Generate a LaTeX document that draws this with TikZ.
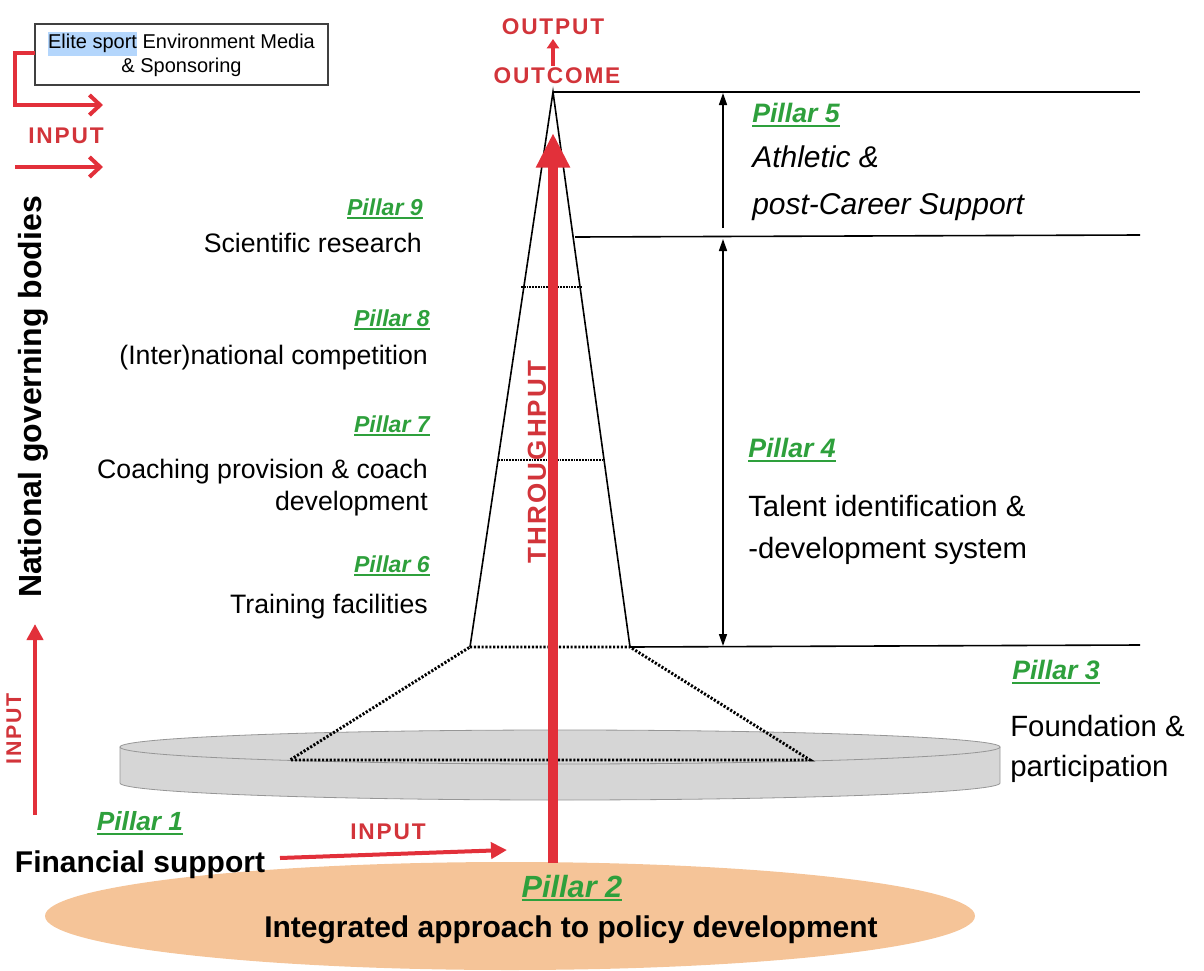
\documentclass[tikz,border=0pt]{standalone}
\usepackage{fontspec}
\setmainfont{Liberation Sans}
\newfontfamily\redfont[LetterSpace=8]{Liberation Sans}
\usetikzlibrary{arrows.meta}
\definecolor{pgreen}{RGB}{46,160,60}
\definecolor{ared}{RGB}{226,48,58}
\definecolor{tred}{RGB}{210,52,58}
\definecolor{discfill}{RGB}{214,214,214}
\definecolor{discline}{RGB}{150,150,150}
\definecolor{orangef}{RGB}{245,196,152}
\definecolor{hlblue}{RGB}{180,214,252}
\newcommand\pul[1]{\setbox0\hbox{#1}\rlap{\rule[-3pt]{\wd0}{1.5pt}}\box0}
\newcommand\pil[2]{{\color{pgreen}\fontsize{#2}{#2}\selectfont\bfseries\itshape\pul{Pillar #1}}}
\begin{document}
\begin{tikzpicture}[x=0.75pt,y=-0.75pt,
  txt/.style={inner sep=0pt,font=\fontsize{20}{25}\selectfont},
  rtxt/.style={inner sep=0pt,font=\fontsize{22}{31}\selectfont},
  bigb/.style={inner sep=0pt,font=\fontsize{22.5}{26}\selectfont\bfseries},
  redlbl/.style={inner sep=0pt,text=tred,font=\redfont\bfseries\fontsize{17}{20}\selectfont},
  redarr/.style={draw=ared,line width=3pt,-{Straight Barb[length=8pt,width=15pt,line width=3pt]}},
  redtri/.style={draw=ared,line width=3pt,-{Triangle[length=12pt,width=12pt]}},
  thin/.style={draw=black,line width=1.2pt},
  blkarr/.style={draw=black,line width=1.2pt,-{Triangle[length=9pt,width=6pt]}},
  bigdots/.style={draw=black,line width=2.2pt,dash pattern=on 1.6pt off 1.3pt},
  smalldots/.style={draw=black,line width=1.3pt,dash pattern=on 1.3pt off 0.8pt}
]
\useasboundingbox (0,0) rectangle (1204,971);

% ---------- foundation ellipse (pillar 2)
\fill[orangef] (510,916) ellipse [x radius=348.75pt, y radius=40.5pt];

% ---------- grey disc (pillar 3)
\filldraw[fill=discfill,draw=discline,line width=0.6pt]
  (120,747) -- (120,783) arc[start angle=180,end angle=360,x radius=330pt,y radius=12.75pt] -- (1000,747) -- cycle;
\filldraw[fill=discfill,draw=discline,line width=0.6pt]
  (560,747) ellipse [x radius=330pt, y radius=12.75pt];

% ---------- geometry points
\coordinate (apex) at (553,92);
\coordinate (bl) at (470,647);
\coordinate (br) at (630,647);
\coordinate (dl) at (290,760);
\coordinate (dr) at (810,760);
\coordinate (l1a) at (521,287); \coordinate (l1b) at (582,287);
\coordinate (l2a) at (498,460); \coordinate (l2b) at (604,460);

% dotted trapezoid
\draw[bigdots] (bl) -- (br) -- (dr) -- (dl) -- cycle;
% pyramid
\draw[thin] (bl) -- (apex) -- (br);
\draw[smalldots] (l1a) -- (l1b);
\draw[smalldots] (l2a) -- (l2b);

% horizontal lines
\coordinate (h1a) at (553,92);  \coordinate (h1b) at (1140,92);
\coordinate (h2a) at (575,237); \coordinate (h2b) at (1140,235);
\coordinate (h3a) at (630,647); \coordinate (h3b) at (1140,645);
\draw[thin] (h1a) -- (h1b);
\draw[thin] (h2a) -- (h2b);
\draw[thin] (h3a) -- (h3b);

% vertical black arrows
\coordinate (v5b) at (723,228); \coordinate (v5t) at (723,93);
\coordinate (v4t) at (723,239); \coordinate (v4b) at (723,646);
\draw[blkarr] (v5b) -- (v5t);
\draw[blkarr,{Triangle[length=9pt,width=6pt]}-{Triangle[length=9pt,width=6pt]}] (v4t) -- (v4b);

% ---------- throughput arrow
\coordinate (thb) at (553,863);
\coordinate (tht) at (553,133);
\draw[draw=ared,line width=8pt,-{Triangle[length=26pt,width=24pt]}] (thb) -- (tht);
\node[redlbl,font=\redfont\bfseries\fontsize{19.5}{20}\selectfont,rotate=90] (thr) at (537,462) {THROUGHPUT};

% ---------- outcome / output
\node[redlbl] (outcome) at (557,76) {OUTCOME};
\node[redlbl] (output) at (553,27) {OUTPUT};
\coordinate (oa) at (553,66); \coordinate (ob) at (553,39);
\draw[draw=ared,line width=2.5pt,-{Triangle[length=7pt,width=9pt]}] (oa) -- (ob);

% ---------- top-left box
\node[draw=black!75,line width=0.8pt,minimum width=219.75pt,minimum height=45.75pt,inner sep=0pt,align=center,
      font=\fontsize{15}{18}\selectfont] (box) at (181.5,54.5)
  {{\fboxsep=0pt\colorbox{hlblue}{\strut Elite sport} Environment Media}\\\& Sponsoring};
\coordinate (in1) at (103,105);
\coordinate (in1s) at (35,53);
\coordinate (in2a) at (15,167); \coordinate (in2b) at (103,167);
\draw[redarr] (in1s) -- (15,53) |- (in1);
\node[redlbl] (inputA) at (66,136) {INPUT};
\draw[redarr] (in2a) -- (in2b);

% ---------- left side
\node[inner sep=0pt,font=\fontsize{24}{26}\selectfont\bfseries,rotate=90] (ngb) at (33,397) {National governing bodies};
\coordinate (lab) at (35,815); \coordinate (lat) at (35,624);
\draw[redtri] (lab) -- (lat);
\node[redlbl,rotate=90,font=\redfont\bfseries\fontsize{16}{20}\selectfont] (inputL) at (14,729) {INPUT};

\node[inner sep=0pt] (p1) at (140,823) {\pil{1}{19.7}};
\node[bigb] (fin) at (140,865) {Financial support};
\coordinate (fa) at (280,858); \coordinate (fb) at (507,850);
\draw[redtri] (fa) -- (fb);
\node[redlbl] (inputB) at (388,832) {INPUT};

\node[inner sep=0pt] (p2) at (572,888) {\pil{2}{23}};
\node[bigb] (iapd) at (571,930) {Integrated approach to policy development};

% ---------- left pillar texts
\node[inner sep=0pt,anchor=east] (p9) at (423,209) {\pil{9}{17.3}};
\node[txt,anchor=east] (t9) at (422,243) {Scientific research};
\node[inner sep=0pt,anchor=east] (p8) at (430,320) {\pil{8}{17.3}};
\node[txt,anchor=east] (t8) at (428,358) {(Inter)national competition};
\node[inner sep=0pt,anchor=east] (p7) at (430,426) {\pil{7}{17.3}};
\node[txt,anchor=east,align=right,font=\fontsize{20}{24}\selectfont] (t7) at (428,488) {Coaching provision \& coach\\development};
\node[inner sep=0pt,anchor=east] (p6) at (430,566) {\pil{6}{17.3}};
\node[txt,anchor=east] (t6) at (428,607) {Training facilities};

% ---------- right pillar texts
\node[inner sep=0pt,anchor=west] (p5) at (752,115) {\pil{5}{20}};
\node[rtxt,anchor=west,align=left,font=\fontsize{22.5}{35}\selectfont\itshape] (t5) at (752,183) {Athletic \&\\post-Career Support};
\node[inner sep=0pt,anchor=west] (p4) at (748,450) {\pil{4}{20}};
\node[rtxt,anchor=west,align=left,font=\fontsize{22}{31.5}\selectfont] (t4) at (748,530) {Talent identification \&\\-development system};
\node[inner sep=0pt,anchor=west] (p3) at (1012,672) {\pil{3}{20}};
\node[rtxt,anchor=west,align=left,font=\fontsize{22}{30}\selectfont] (t3) at (1010,749) {Foundation \&\\participation};
\end{tikzpicture}
\end{document}
